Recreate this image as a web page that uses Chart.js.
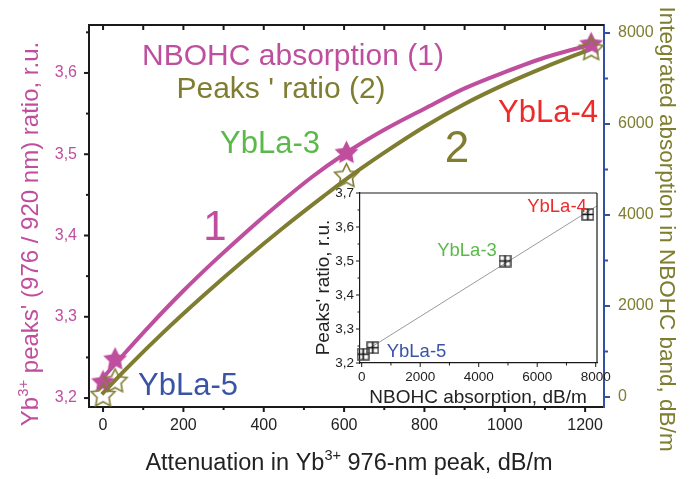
<!DOCTYPE html>
<html><head><meta charset="utf-8">
<script src="https://cdn.jsdelivr.net/npm/chart.js@4/dist/chart.umd.min.js"></script>
<style>
html,body{margin:0;padding:0;background:#fff;}
#wrap{position:relative;width:697px;height:479px;overflow:hidden;}
#main{position:absolute;left:0;top:0;}
#inset{position:absolute;left:305px;top:185px;}
</style></head><body>
<div id="wrap"><canvas id="main" width="697" height="479"></canvas><canvas id="inset" width="310" height="224"></canvas></div>
<script>
const FONT = '"Liberation Sans", Arial, sans-serif';
const MAGENTA = '#bf4f9e', OLIVE = '#7f7d30', BLUE = '#3550a3', GREEN = '#5bb94a', RED = '#ee2b2b', TBLUE = '#3a54a5', INK = '#222';

// Samples (YbLa-5 two points, YbLa-3, YbLa-4)
const sampleAtten = [0, 30, 606, 1215];          // dB/m, Yb3+ 976-nm peak
const peaksRatio  = [3.221, 3.249, 3.503, 3.637]; // r.u.
const nbohcAbs    = [60, 370, 4880, 7670];        // dB/m

// Fitted curve 1 (peaks' ratio)
const fit1X = [-7, 50, 120, 200, 280, 360, 440, 520, 600, 700, 800, 900, 1000, 1100, 1215];
const fit1Y = [3.221, 3.253, 3.291, 3.332, 3.370, 3.406, 3.440, 3.472, 3.500, 3.530, 3.556, 3.581, 3.601, 3.619, 3.635];
// Fitted curve 2 (NBOHC absorption)
const fit2X = [-3, 60, 150, 250, 350, 450, 550, 607, 700, 800, 900, 1000, 1100, 1215];
const fit2Y = [60, 640, 1420, 2230, 3000, 3730, 4420, 4800, 5370, 5940, 6440, 6870, 7250, 7650];

// Inset: peaks' ratio vs NBOHC absorption
const insetX = [50, 380, 4900, 7730];
const insetY = [3.226, 3.245, 3.500, 3.637];
const insetFitX = [280, 8040];
const insetFitY = [3.244, 3.662];

// Tick labels
const xTicks = [0, 200, 400, 600, 800, 1000, 1200];
const yLeftTicks = [3.2, 3.3, 3.4, 3.5, 3.6];
const yRightTicks = [0, 2000, 4000, 6000, 8000];
const insetXTicks = [0, 2000, 4000, 6000, 8000];
const insetYTicks = [3.2, 3.3, 3.4, 3.5, 3.6, 3.7];

const comma = v => v.toFixed(1).replace('.', ',');
const pts = (xs, ys) => xs.map((x, i) => ({x, y: ys[i]}));
const mids = (arr, extra) => { const m = []; for (let i = 0; i < arr.length - 1; i++) m.push((arr[i] + arr[i + 1]) / 2); return m.concat(extra || []); };
const noPad = s => { s.paddingTop = 0; s.paddingBottom = 0; s.paddingLeft = 0; s.paddingRight = 0; };

function makeStar(R, fill, stroke, lw) {
  const c = document.createElement('canvas'); const s = Math.ceil(2 * R + 4); c.width = c.height = s;
  const g = c.getContext('2d'); g.translate(s / 2, s / 2 + R * 0.1); g.beginPath();
  for (let i = 0; i < 10; i++) { const r = i % 2 ? R * 0.5 : R; const a = -Math.PI / 2 + i * Math.PI / 5; g.lineTo(r * Math.cos(a), r * Math.sin(a)); }
  g.closePath();
  if (fill) { g.fillStyle = fill; g.fill(); }
  if (stroke) { g.strokeStyle = stroke; g.lineWidth = lw; g.lineJoin = 'miter'; g.stroke(); }
  return c;
}
function makeBoxPlus() {
  const c = document.createElement('canvas'); c.width = c.height = 13;
  const g = c.getContext('2d');
  g.strokeStyle = '#444'; g.lineWidth = 1.5; g.strokeRect(1, 1, 11, 11);
  g.strokeStyle = '#111'; g.lineWidth = 1.7; g.beginPath(); g.moveTo(6.5, 1); g.lineTo(6.5, 12); g.moveTo(1, 6.5); g.lineTo(12, 6.5); g.stroke();
  return c;
}

function rich(ctx, segs, size, color, x, y, rot, align) {
  ctx.save(); ctx.translate(x, y); ctx.rotate(rot || 0); ctx.fillStyle = color;
  ctx.textBaseline = 'alphabetic'; ctx.textAlign = 'left';
  const sup = size * 0.62; let w = 0;
  for (const s of segs) { ctx.font = (s.sup ? sup : size) + 'px ' + FONT; s.w = ctx.measureText(s.t).width; w += s.w; }
  let cx = align === 'center' ? -w / 2 : 0;
  for (const s of segs) { ctx.font = (s.sup ? sup : size) + 'px ' + FONT; ctx.fillText(s.t, cx, s.sup ? -size * 0.42 : 0); cx += s.w; }
  ctx.restore();
}
function line(ctx, x1, y1, x2, y2) { ctx.beginPath(); ctx.moveTo(x1, y1); ctx.lineTo(x2, y2); ctx.stroke(); }

const mainDeco = {
  id: 'mainDeco',
  afterDraw(chart) {
    const {ctx, chartArea: a, scales: {x, y, y2}} = chart;
    ctx.save();
    ctx.strokeStyle = '#1a1a1a'; ctx.lineWidth = 2; line(ctx, a.left - 1, a.top, a.right, a.top);
    for (const v of xTicks) { const p = x.getPixelForValue(v); line(ctx, p, a.bottom, p, a.bottom + 5); line(ctx, p, a.top, p, a.top + 5); }
    for (const v of mids(xTicks)) { const p = x.getPixelForValue(v); line(ctx, p, a.bottom, p, a.bottom + 3); line(ctx, p, a.top, p, a.top + 5); }
    for (const v of yLeftTicks) { const p = y.getPixelForValue(v); line(ctx, a.left, p, a.left - 5, p); }
    for (const v of mids(yLeftTicks, [3.65])) { const p = y.getPixelForValue(v); line(ctx, a.left, p, a.left - 3, p); }
    ctx.strokeStyle = BLUE;
    for (const v of yRightTicks) { const p = y2.getPixelForValue(v); line(ctx, a.right, p, a.right + 6, p); }
    for (const v of mids(yRightTicks)) { const p = y2.getPixelForValue(v); line(ctx, a.right, p, a.right + 4, p); }
    ctx.restore();

    rich(ctx, [{t: 'Yb'}, {t: '3+', sup: true}, {t: " peaks' (976 / 920 nm) ratio, r.u."}], 24, MAGENTA, 38, 234, -Math.PI / 2, 'center');
    rich(ctx, [{t: 'Attenuation in Yb'}, {t: '3+', sup: true}, {t: ' 976-nm peak, dB/m'}], 23.5, INK, 349, 470, 0, 'center');
    rich(ctx, [{t: 'Integrated absorption in NBOHC band, dB/m'}], 22.5, OLIVE, 660, 229, Math.PI / 2, 'center');

    rich(ctx, [{t: 'NBOHC absorption (1)'}], 30, MAGENTA, 293, 65, 0, 'center');
    rich(ctx, [{t: "Peaks ' ratio (2)"}], 30, OLIVE, 281, 98, 0, 'center');
    rich(ctx, [{t: 'YbLa-3'}], 31, GREEN, 270, 153, 0, 'center');
    rich(ctx, [{t: 'YbLa-4'}], 31, RED, 548, 122, 0, 'center');
    rich(ctx, [{t: 'YbLa-5'}], 31, TBLUE, 188, 395, 0, 'center');
    rich(ctx, [{t: '1'}], 42, MAGENTA, 215, 240, 0, 'center');
    rich(ctx, [{t: '2'}], 44, OLIVE, 457, 162, 0, 'center');
  }
};

const starFilled = makeStar(12.5, MAGENTA, null, 0);
const starOpen = makeStar(12.5, null, OLIVE, 1.6);

new Chart(document.getElementById('main'), {
  type: 'scatter',
  data: {
    datasets: [
      {data: pts(sampleAtten, nbohcAbs), yAxisID: 'y2', pointStyle: starOpen, pointRadius: 12, showLine: false, clip: false},
      {data: pts(sampleAtten, peaksRatio), yAxisID: 'y', pointStyle: starFilled, pointRadius: 12, showLine: false, clip: false},
      {data: pts(fit2X, fit2Y), yAxisID: 'y2', showLine: true, borderColor: OLIVE, borderWidth: 4, pointRadius: 0, cubicInterpolationMode: 'monotone', clip: false},
      {data: pts(fit1X, fit1Y), yAxisID: 'y', showLine: true, borderColor: MAGENTA, borderWidth: 4, pointRadius: 0, cubicInterpolationMode: 'monotone', clip: false}
    ]
  },
  options: {
    responsive: false, animation: false, devicePixelRatio: 1,
    layout: {padding: {top: 25, left: 0, right: 0, bottom: 0}},
    plugins: {legend: {display: false}, tooltip: {enabled: false}},
    scales: {
      x: {type: 'linear', position: 'bottom', min: -35, max: 1247,
        afterBuildTicks: s => { s.ticks = xTicks.map(v => ({value: v})); },
        afterFit: s => { s.height = 72; noPad(s); },
        grid: {display: false, drawTicks: false}, border: {display: true, color: '#1a1a1a', width: 2},
        ticks: {color: INK, font: {family: FONT, size: 16}, padding: 9, maxRotation: 0, autoSkip: false, callback: v => String(v)}},
      y: {type: 'linear', position: 'left', min: 3.189, max: 3.659,
        afterBuildTicks: s => { s.ticks = yLeftTicks.map(v => ({value: v})); },
        afterFit: s => { s.width = 89; noPad(s); },
        grid: {display: false, drawTicks: false}, border: {display: true, color: '#1a1a1a', width: 2},
        ticks: {color: MAGENTA, font: {family: FONT, size: 16}, padding: 12, callback: v => comma(v)}},
      y2: {type: 'linear', position: 'right', min: -220, max: 8176,
        afterBuildTicks: s => { s.ticks = yRightTicks.map(v => ({value: v})); },
        afterFit: s => { s.width = 93; noPad(s); },
        grid: {display: false, drawTicks: false}, border: {display: true, color: BLUE, width: 2},
        ticks: {color: OLIVE, font: {family: FONT, size: 16}, padding: 14, callback: v => String(v)}}
    }
  },
  plugins: [mainDeco]
});

const insetDeco = {
  id: 'insetDeco',
  afterDraw(chart) {
    const {ctx, chartArea: a, scales: {x, y}} = chart;
    ctx.save();
    ctx.strokeStyle = '#1a1a1a'; ctx.lineWidth = 1.2;
    line(ctx, a.left, a.top, a.right, a.top); line(ctx, a.right, a.top, a.right, a.bottom);
    ctx.lineWidth = 1;
    for (const v of insetXTicks) { const p = x.getPixelForValue(v); line(ctx, p, a.bottom, p, a.bottom + 4); }
    for (const v of mids(insetXTicks)) { const p = x.getPixelForValue(v); line(ctx, p, a.bottom, p, a.bottom + 2.5); }
    for (const v of insetYTicks) { const p = y.getPixelForValue(v); line(ctx, a.left, p, a.left - 4, p); }
    for (const v of mids(insetYTicks)) { const p = y.getPixelForValue(v); line(ctx, a.left, p, a.left - 2.5, p); }
    ctx.restore();
    rich(ctx, [{t: 'NBOHC absorption, dB/m'}], 19, INK, 173, 218, 0, 'center');
    rich(ctx, [{t: "Peaks' ratio, r.u."}], 19, INK, 24, 102.5, -Math.PI / 2, 'center');
    rich(ctx, [{t: 'YbLa-4'}], 18.5, RED, 252, 27, 0, 'center');
    rich(ctx, [{t: 'YbLa-3'}], 18.5, GREEN, 162, 71, 0, 'center');
    rich(ctx, [{t: 'YbLa-5'}], 18.5, TBLUE, 111.5, 172, 0, 'center');
  }
};

new Chart(document.getElementById('inset'), {
  type: 'scatter',
  data: {
    datasets: [
      {data: pts(insetX, insetY), pointStyle: makeBoxPlus(), pointRadius: 6, showLine: false, clip: false},
      {data: pts(insetFitX, insetFitY), showLine: true, borderColor: '#9a9a9a', borderWidth: 1, pointRadius: 0, clip: false}
    ]
  },
  options: {
    responsive: false, animation: false, devicePixelRatio: 1,
    layout: {padding: {top: 8, left: 0, right: 18, bottom: 0}},
    plugins: {legend: {display: false}, tooltip: {enabled: false}},
    scales: {
      x: {type: 'linear', position: 'bottom', min: -58, max: 8044,
        afterBuildTicks: s => { s.ticks = insetXTicks.map(v => ({value: v})); },
        afterFit: s => { s.height = 46; noPad(s); },
        grid: {display: false, drawTicks: false}, border: {display: true, color: '#1a1a1a', width: 1.2},
        ticks: {color: INK, font: {family: FONT, size: 13.5}, padding: 6, maxRotation: 0, autoSkip: false, callback: v => String(v)}},
      y: {type: 'linear', position: 'left', min: 3.2, max: 3.7,
        afterBuildTicks: s => { s.ticks = insetYTicks.map(v => ({value: v})); },
        afterFit: s => { s.width = 55; noPad(s); },
        grid: {display: false, drawTicks: false}, border: {display: true, color: '#1a1a1a', width: 1.2},
        ticks: {color: INK, font: {family: FONT, size: 13.5}, padding: 6, callback: v => comma(v)}}
    }
  },
  plugins: [insetDeco]
});
</script>
</body></html>
